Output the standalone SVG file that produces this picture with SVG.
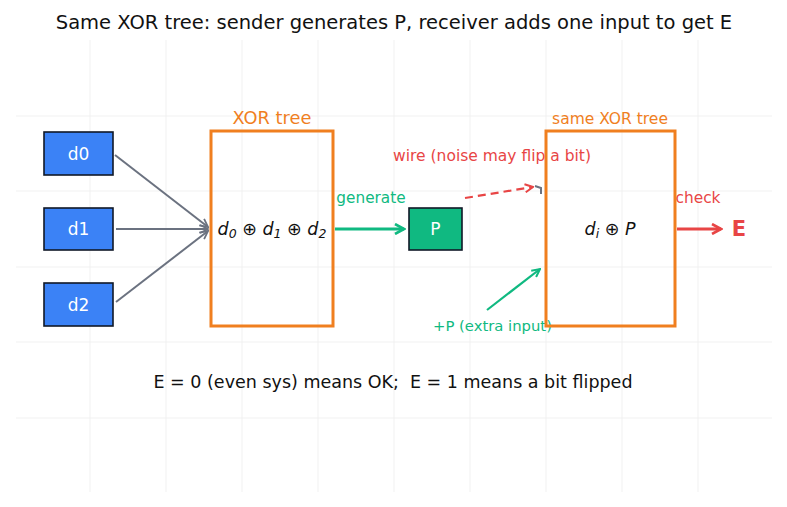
<svg xmlns="http://www.w3.org/2000/svg" width="787" height="507" viewBox="0 0 787 507">
<defs>
<style>
text{font-family:"DejaVu Sans","Liberation Sans",sans-serif;}
.grid{stroke:#eeeeee;stroke-width:0.8;fill:none}
.dnode{fill:#3b82f6;stroke:#111827;stroke-width:1.6}
.dlabel{fill:#ffffff;font-size:17px;text-anchor:middle;dominant-baseline:central}
.tree{fill:none;stroke:#f07f1f;stroke-width:3}
.orange{fill:#f07f1f;text-anchor:middle}
.math{font-family:"DejaVu Sans",sans-serif;font-style:italic;font-size:17.5px;fill:#111;text-anchor:middle;dominant-baseline:central}
.gray{stroke:#6b7280;stroke-width:2;fill:none}
.green{stroke:#10b981;fill:none}
.red{stroke:#e84545;fill:none}
</style>
<marker id="ag" viewBox="0 0 10 10" refX="9" refY="5" markerWidth="10" markerHeight="10" markerUnits="userSpaceOnUse" orient="auto"><path d="M1,1 L9,5 L1,9" fill="none" stroke="#6b7280" stroke-width="1.8"/></marker>
<marker id="agr" viewBox="0 0 12 12" refX="10" refY="6" markerWidth="12" markerHeight="12" markerUnits="userSpaceOnUse" orient="auto"><path d="M1,1 L10,6 L1,11" fill="none" stroke="#10b981" stroke-width="2.6"/></marker>
<marker id="agr2" viewBox="0 0 10 10" refX="9" refY="5" markerWidth="10" markerHeight="10" markerUnits="userSpaceOnUse" orient="auto"><path d="M1,1 L9,5 L1,9" fill="none" stroke="#10b981" stroke-width="2"/></marker>
<marker id="ar" viewBox="0 0 12 12" refX="10" refY="6" markerWidth="12" markerHeight="12" markerUnits="userSpaceOnUse" orient="auto"><path d="M1,1 L10,6 L1,11" fill="none" stroke="#e84545" stroke-width="2.6"/></marker>
<marker id="ar2" viewBox="0 0 10 10" refX="9" refY="5" markerWidth="10" markerHeight="10" markerUnits="userSpaceOnUse" orient="auto"><path d="M1,1 L9,5 L1,9" fill="none" stroke="#e84545" stroke-width="2"/></marker>
</defs>
<rect width="787" height="507" fill="#ffffff"/>
<g id="grid" class="grid">
<path d="M90,40V492M166,40V492M242,40V492M318,40V492M394,40V492M470,40V492M546,40V492M622,40V492M698,40V492"/>
<path d="M16,116H772M16,191H772M16,267H772M16,342H772M16,418H772"/>
</g>
<text x="394" y="29" font-size="19.5" fill="#111" text-anchor="middle">Same XOR tree: sender generates P, receiver adds one input to get E</text>
<g id="connectors">
<line class="gray" x1="115" y1="155" x2="208" y2="227" marker-end="url(#ag)"/>
<line class="gray" x1="116" y1="229" x2="208" y2="229" marker-end="url(#ag)"/>
<line class="gray" x1="116" y1="302" x2="208" y2="231" marker-end="url(#ag)"/>
<line class="green" stroke-width="3" x1="335" y1="229" x2="404" y2="229" marker-end="url(#agr)"/>
<text x="371" y="203" font-size="15.3" fill="#10b981" text-anchor="middle">generate</text>
<line class="red" stroke-width="2.2" stroke-dasharray="8,5" x1="465" y1="198" x2="533" y2="187" marker-end="url(#ar2)"/>
<path d="M535,186 L541,188 L541,194" class="gray" stroke-width="1.8"/>
<text x="492" y="161" font-size="15.5" fill="#e84545" text-anchor="middle">wire (noise may flip a bit)</text>
<line class="green" stroke-width="2.2" x1="487" y1="310" x2="540" y2="269" marker-end="url(#agr2)"/>
<text x="492.5" y="331" font-size="14.8" fill="#10b981" text-anchor="middle">+P (extra input)</text>
<line class="red" stroke-width="3" x1="677" y1="229" x2="721" y2="229" marker-end="url(#ar)"/>
<text x="698" y="203" font-size="15.4" fill="#e84545" text-anchor="middle">check</text>
</g>
<g id="d0"><rect class="dnode" x="44" y="132" width="69" height="43"/><text class="dlabel" x="78.5" y="153.5">d0</text></g>
<g id="d1"><rect class="dnode" x="44" y="208" width="69" height="42"/><text class="dlabel" x="78.5" y="229">d1</text></g>
<g id="d2"><rect class="dnode" x="44" y="283" width="69" height="43"/><text class="dlabel" x="78.5" y="304.5">d2</text></g>
<g id="xor-tree">
<rect class="tree" x="211" y="131" width="122" height="195"/>
<text class="orange" x="272" y="124" font-size="17.8">XOR tree</text>
<text class="math" x="272" y="229">d<tspan font-size="12.5" dy="4">0</tspan><tspan dy="-4" font-style="normal"> ⊕ </tspan>d<tspan font-size="12.5" dy="4">1</tspan><tspan dy="-4" font-style="normal"> ⊕ </tspan>d<tspan font-size="12.5" dy="4">2</tspan></text>
</g>
<g id="P"><rect x="409" y="208" width="53" height="42" fill="#10b981" stroke="#111827" stroke-width="1.6"/><text class="dlabel" x="435.5" y="229">P</text></g>
<g id="same-xor-tree">
<rect class="tree" x="546" y="131" width="129" height="195"/>
<text class="orange" x="610" y="124" font-size="15.5">same XOR tree</text>
<text class="math" x="610" y="229">d<tspan font-size="12.5" dy="4">i</tspan><tspan dy="-4" font-style="normal"> ⊕ </tspan>P</text>
</g>
<g id="E"><text x="739" y="236" font-size="21" font-weight="bold" fill="#e84545" text-anchor="middle">E</text></g>
<text x="393" y="388" font-size="17.5" fill="#111" text-anchor="middle" xml:space="preserve">E = 0 (even sys) means OK;  E = 1 means a bit flipped</text>
</svg>
